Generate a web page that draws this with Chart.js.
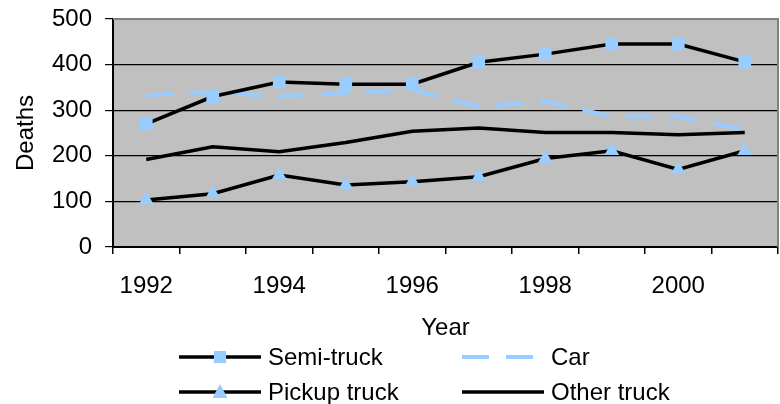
<!DOCTYPE html>
<html>
<head>
<meta charset="utf-8">
<script src="https://cdn.jsdelivr.net/npm/chart.js@4/dist/chart.umd.min.js"></script>
<style>
  html, body { margin: 0; padding: 0; background: #fff; }
  #wrap { width: 780px; height: 404px; }
</style>
</head>
<body>
<div id="wrap"><canvas id="ctx" width="780" height="404"></canvas></div>
<script>
const years = ['1992', '1993', '1994', '1995', '1996', '1997', '1998', '1999', '2000', '2001']
const semiTruck = [270, 330, 362, 357, 357, 405, 423, 445, 445, 406]
const car = [333, 340, 330, 338, 345, 308, 320, 286, 286, 258]
const pickupTruck = [103, 117, 158, 136, 143, 154, 194, 211, 170, 211]
const otherTruck = [192, 220, 209, 229, 254, 261, 251, 251, 246, 251]
const yTicks = [0, 100, 200, 300, 400, 500]

const FONT = 'Liberation Sans, Arial, sans-serif'
const BLUE = '#99CCFF'

// gray plot background with the gray frame on top and right
const plotBackground = {
  id: 'plotBackground',
  beforeDraw: (chart) => {
    const {ctx, chartArea: a} = chart
    ctx.save()
    ctx.fillStyle = '#C0C0C0'
    ctx.fillRect(a.left, a.top, a.right - a.left, a.bottom - a.top)
    ctx.restore()
  },
  beforeDatasetsDraw: (chart) => {
    const {ctx, chartArea: a} = chart
    ctx.save()
    ctx.strokeStyle = '#808080'
    ctx.lineWidth = 2
    ctx.beginPath()
    ctx.moveTo(a.left, a.top)
    ctx.lineTo(a.right, a.top)
    ctx.lineTo(a.right, a.bottom)
    ctx.stroke()
    ctx.restore()
  }
}

// two-column legend under the axis title, Excel style
const excelLegend = {
  id: 'excelLegend',
  afterDraw: (chart) => {
    const {ctx} = chart
    const colX = [179, 462]
    const rowY = [357, 392]
    ctx.save()
    chart.data.datasets.forEach((ds, i) => {
      const x = colX[i % 2]
      const y = rowY[Math.floor(i / 2)]
      ctx.strokeStyle = ds.borderColor
      ctx.lineWidth = ds.borderWidth
      ctx.setLineDash(ds.borderDash || [])
      ctx.beginPath()
      ctx.moveTo(x, y)
      ctx.lineTo(x + 82, y)
      ctx.stroke()
      ctx.setLineDash([])
      const mx = x + 41
      ctx.fillStyle = BLUE
      if (ds.pointStyle === 'rect') {
        ctx.fillRect(mx - 6, y - 6, 12, 12)
      } else if (ds.pointStyle === 'triangle') {
        ctx.beginPath()
        ctx.moveTo(mx, y - 8)
        ctx.lineTo(mx + 7.5, y + 6)
        ctx.lineTo(mx - 7.5, y + 6)
        ctx.closePath()
        ctx.fill()
      }
      ctx.fillStyle = '#000'
      ctx.font = '24px ' + FONT
      ctx.textBaseline = 'middle'
      ctx.textAlign = 'left'
      ctx.fillText(ds.label, x + 89, y + 1)
    })
    ctx.restore()
  }
}

const lineBase = {
  tension: 0,
  fill: false,
  pointBorderWidth: 0,
  pointBackgroundColor: BLUE,
  pointBorderColor: BLUE
}

const data = {
  labels: years,
  datasets: [
    Object.assign({}, lineBase, {
      label: 'Semi-truck', data: semiTruck, borderColor: '#000', borderWidth: 3.5,
      pointStyle: 'rect', pointRadius: 9
    }),
    Object.assign({}, lineBase, {
      label: 'Car', data: car, borderColor: BLUE, borderWidth: 4, borderDash: [27, 17],
      pointRadius: 0
    }),
    Object.assign({}, lineBase, {
      label: 'Pickup truck', data: pickupTruck, borderColor: '#000', borderWidth: 3.5,
      pointStyle: 'triangle', pointRadius: 8.5
    }),
    Object.assign({}, lineBase, {
      label: 'Other truck', data: otherTruck, borderColor: '#000', borderWidth: 3.5,
      pointRadius: 0
    })
  ]
}

const options = {
  type: 'line',
  data: data,
  options: {
    responsive: false,
    animation: false,
    layout: { autoPadding: false, padding: { top: 19, right: 2, bottom: 61, left: 0 } },
    plugins: {
      legend: { display: false },
      tooltip: { enabled: false }
    },
    scales: {
      x: {
        type: 'category',
        offset: true,
        afterFit: (scale) => {
          scale.height = 96
          scale.paddingLeft = 0
          scale.paddingRight = 0
        },
        grid: { offset: true, drawOnChartArea: false, color: '#000', tickLength: 7, lineWidth: 1.5 },
        border: { display: true, color: '#000', width: 2 },
        ticks: {
          autoSkip: false, maxRotation: 0, padding: 18, color: '#000',
          font: { family: FONT, size: 24 },
          callback: function (val, i) { return i % 2 === 0 ? this.getLabelForValue(val) : '' }
        },
        title: { display: true, text: 'Year', color: '#000', font: { family: FONT, size: 24 }, padding: 0 }
      },
      y: {
        min: 0,
        max: 500,
        afterFit: (scale) => {
          scale.width = 113
          scale.paddingTop = 0
          scale.paddingBottom = 0
        },
        afterBuildTicks: (scale) => { scale.ticks = yTicks.map(v => ({value: v})) },
        grid: {
          color: (c) => c.tick && c.tick.value === 500 ? '#808080' : '#000',
          tickColor: '#000', tickLength: 8, lineWidth: 1.2
        },
        border: { display: true, color: '#000', width: 2 },
        ticks: { padding: 13, color: '#000', font: { family: FONT, size: 24 } },
        title: { display: true, text: 'Deaths', color: '#000', font: { family: FONT, size: 24 }, padding: { top: 12, bottom: 0 } }
      }
    }
  },
  plugins: [plotBackground, excelLegend]
}

const chart = new Chart(document.getElementById('ctx'), options)
</script>
</body>
</html>
